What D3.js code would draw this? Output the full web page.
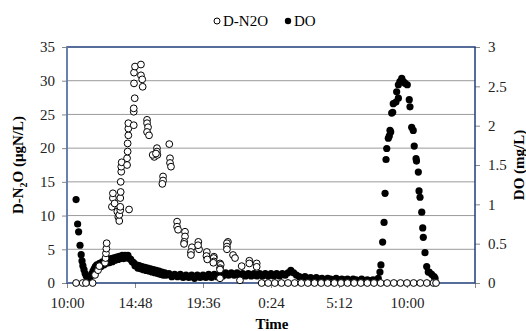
<!DOCTYPE html>
<html>
<head>
<meta charset="utf-8">
<script src="https://cdn.jsdelivr.net/npm/d3@7"></script>
<style>
  body { margin: 0; background: #fff; }
  #chart text { font-family: "Liberation Serif", Tinos, "Times New Roman", Times, "DejaVu Serif", serif; }
</style>
</head>
<body>
<svg id="chart" width="526" height="331"></svg>
<script>
// hours elapsed since 10:00 on day one
const timeLabels = ["10:00", "14:48", "19:36", "0:24", "5:12", "10:00"];
const leftTicks = [0, 5, 10, 15, 20, 25, 30, 35];
const rightTicks = [0, 0.5, 1, 1.5, 2, 2.5, 3];

// D-N2O (ugN/L) : [hours, value]
const n2o = [
  [0.64,0],[1.11,0],[1.34,0],[1.81,0],
  [1.98,1.2],[2.19,1.9],[2.28,2.5],
  [2.68,3.0],[2.72,3.7],[2.75,4.4],[2.78,5.1],[2.8,5.9],
  [3.17,11.3],[3.24,12.6],[3.24,13.3],[3.36,11.8],[3.55,10.6],[3.62,9.8],[3.69,9.2],[3.69,10.1],
  [3.76,10.8],[3.76,11.3],[3.76,12.6],[3.79,13.5],[3.79,15.0],[3.83,16.5],[3.83,17.25],[3.86,17.9],
  [4.24,17.5],[4.24,18.5],[4.28,19.5],[4.28,20.7],[4.33,21.9],[4.33,22.9],[4.33,23.7],[4.38,10.9],
  [4.71,23.4],[4.71,25.4],[4.71,25.9],[4.78,27.4],[4.73,29.6],[4.73,31.2],[4.8,32.1],
  [5.22,32.4],[5.22,30.8],[5.31,30.2],[5.34,29.1],
  [5.65,24.2],[5.65,23.7],[5.72,23.1],[5.65,22.4],[5.79,21.9],
  [6.35,20.0],[6.35,19.5],[6.16,18.7],[6.05,19.0],[6.38,19.0],[6.28,19.2],
  [6.78,15.8],[6.78,15.2],[6.73,14.7],
  [7.22,20.6],[7.27,18.5],[7.27,17.8],[7.34,17.25],
  [7.77,9.1],[7.77,8.35],[7.84,7.9],
  [8.33,7.6],[8.33,6.9],[8.28,6.1],[8.26,5.8],
  [8.82,5.3],[8.75,4.6],[8.75,4.15],
  [9.27,6.1],[9.32,5.0],[9.25,5.6],
  [9.87,4.6],[9.84,4.0],[9.9,3.5],
  [10.37,3.9],[10.35,3.7],[10.37,3.2],[10.33,3.0],
  [10.8,2.9],[10.85,2.7],[10.8,2.2],[10.8,2.0],[10.8,0.7],
  [11.36,6.1],[11.29,5.9],[11.29,5.4],[11.29,5.0],
  [11.72,4.15],[11.86,3.7],
  [12.21,0.4],[12.33,2.5],
  [12.87,3.3],[12.87,2.9],
  [13.39,2.9],[13.39,2.4],
  [13.74,0],[14.2,0],[14.67,0],[15.14,0],[15.6,0],[16.07,0],[16.54,0],[17.0,0],[17.47,0],
  [17.94,0],[18.4,0],[18.87,0],[19.34,0],[19.8,0],[20.27,0],[20.74,0],[21.2,0],[21.67,0],
  [22.14,0],[22.6,0],[23.07,0],[23.54,0],[24.0,0],[24.47,0],[24.94,0],[25.4,0],[25.87,0],[26.05,0]
];

// DO (mg/L) : [hours, value]
const dox = [
  [0.64,1.06],[0.75,0.75],[0.82,0.65],[0.92,0.48],[1.0,0.36],[1.06,0.28],[1.12,0.22],[1.2,0.17],
  [1.28,0.12],[1.36,0.09],[1.44,0.07],[1.52,0.06],[1.6,0.07],[1.68,0.09],[1.76,0.12],[1.84,0.15],
  [1.92,0.18],[2.0,0.21],[2.1,0.23],[2.2,0.19],[2.3,0.25],[2.4,0.21],[2.5,0.27],[2.6,0.23],
  [2.7,0.28],[2.8,0.25],[2.9,0.29],[3.0,0.26],[3.1,0.31],[3.2,0.27],[3.3,0.32],[3.4,0.29],
  [3.5,0.33],[3.6,0.30],[3.7,0.34],[3.8,0.31],[3.9,0.35],[4.0,0.31],[4.1,0.35],[4.2,0.32],
  [4.3,0.35],[4.4,0.31],[4.5,0.30],[4.6,0.27],[4.7,0.26],[4.8,0.22],[4.9,0.23],[5.0,0.19],
  [5.1,0.22],[5.2,0.18],[5.3,0.21],[5.4,0.17],[5.5,0.20],[5.6,0.16],[5.7,0.19],[5.8,0.15],
  [5.9,0.18],[6.0,0.14],[6.1,0.17],[6.2,0.13],[6.3,0.16],[6.4,0.12],[6.5,0.15],[6.6,0.11],
  [6.7,0.14],[6.8,0.10],[6.9,0.13],[7.0,0.10],[7.2,0.12],[7.4,0.08],[7.6,0.11],[7.8,0.08],
  [8.0,0.11],[8.2,0.07],[8.4,0.10],[8.6,0.07],[8.8,0.10],[9.0,0.06],[9.2,0.10],[9.4,0.07],
  [9.6,0.10],[9.8,0.07],[10.0,0.11],[10.2,0.07],[10.4,0.11],[10.6,0.08],[10.8,0.12],[11.0,0.09],
  [11.2,0.13],[11.4,0.10],[11.6,0.13],[11.8,0.10],[12.0,0.13],[12.2,0.09],[12.4,0.12],[12.6,0.09],
  [12.8,0.12],[13.0,0.09],[13.2,0.12],[13.4,0.09],[13.6,0.12],[13.8,0.09],[14.0,0.12],[14.2,0.09],
  [14.4,0.12],[14.6,0.09],[14.8,0.12],[15.0,0.09],[15.2,0.12],[15.4,0.10],[15.6,0.13],[15.8,0.16],
  [16.0,0.13],[16.2,0.10],[16.4,0.08],[16.6,0.07],[16.8,0.08],[17.0,0.06],[17.2,0.07],[17.4,0.05],
  [17.6,0.07],[17.8,0.05],[18.0,0.06],[18.2,0.04],[18.4,0.06],[18.6,0.05],[18.8,0.04],[19.0,0.06],
  [19.2,0.04],[19.4,0.05],[19.6,0.04],[19.8,0.05],[20.0,0.03],[20.2,0.05],[20.4,0.04],[20.6,0.03],
  [20.8,0.05],[21.0,0.03],[21.2,0.04],[21.4,0.03],[21.6,0.04],[21.8,0.03],
  [21.97,0.06],[22.09,0.14],[22.16,0.23],[22.28,0.52],[22.38,0.77],[22.45,1.14],[22.52,1.57],
  [22.57,1.71],[22.68,1.84],[22.75,1.87],[22.8,1.94],[22.85,1.92],[22.92,2.16],[22.99,2.17],
  [23.03,2.28],[23.22,2.30],[23.27,2.43],[23.39,2.35],[23.39,2.52],[23.5,2.56],[23.63,2.60],
  [23.74,2.56],[23.86,2.54],[24.02,2.52],[24.16,2.33],[24.21,2.24],
  [24.33,1.98],[24.44,1.94],[24.51,1.74],[24.64,1.58],[24.67,1.55],[24.8,1.41],[24.85,1.17],
  [24.92,1.09],[25.04,0.90],[25.11,0.70],[25.15,0.58],[25.27,0.385],[25.39,0.21],[25.5,0.14],
  [25.57,0.14],[25.74,0.11],[25.91,0.08],[25.98,0.06]
];

const svg = d3.select("#chart");
const plotLeft = 67, plotRight = 475, plotTop = 47, plotBottom = 283;

const x = d3.scaleLinear().domain([0, 28.8]).range([plotLeft, plotRight]);
const yL = d3.scaleLinear().domain([0, 35]).range([plotBottom, plotTop]);
const yR = d3.scaleLinear().domain([0, 3]).range([plotBottom, plotTop]);

// gridlines
svg.append("g")
  .selectAll("line")
  .data(leftTicks.slice(1, -1))
  .enter()
  .append("line")
  .attr("x1", plotLeft).attr("x2", plotRight)
  .attr("y1", d => yL(d)).attr("y2", d => yL(d))
  .attr("stroke", "#9a9a9a")
  .attr("stroke-width", 1);

// axes
const xTickVals = d3.range(7).map(i => i * 4.8);
const xAxis = d3.axisBottom(x)
  .tickValues(xTickVals)
  .tickSize(5)
  .tickFormat((d, i) => timeLabels[i] || "");
const gx = svg.append("g").attr("transform", `translate(0,${plotBottom})`).call(xAxis);

const gl = svg.append("g").attr("transform", `translate(${plotLeft},0)`)
  .call(d3.axisLeft(yL).tickValues(leftTicks).tickSize(5).tickFormat(d3.format("d")));

const gr = svg.append("g").attr("transform", `translate(${plotRight},0)`)
  .call(d3.axisRight(yR).tickValues(rightTicks).tickSize(5).tickFormat(d => d));

[gx, gl, gr].forEach(g => {
  g.attr("font-family", null).attr("font-size", null);
  g.select(".domain").remove();
  g.selectAll(".tick line").attr("stroke", "#888");
  g.selectAll(".tick text")
    .attr("font-size", 15)
    .attr("fill", "#222");
});
gl.selectAll(".tick text").attr("x", -12);
gr.selectAll(".tick text").attr("x", 13);
gx.selectAll(".tick text").attr("y", 14);

// plot frame
svg.append("rect")
  .attr("x", plotLeft).attr("y", plotTop)
  .attr("width", plotRight - plotLeft).attr("height", plotBottom - plotTop)
  .attr("fill", "none")
  .attr("stroke", "#1f3c78")
  .attr("stroke-width", 1.5);
svg.append("line")
  .attr("x1", plotLeft).attr("x2", plotLeft).attr("y1", plotTop).attr("y2", plotBottom)
  .attr("stroke", "#7088b4").attr("stroke-width", 1.5);

// DO points (secondary axis)
svg.append("g")
  .selectAll("circle")
  .data(dox)
  .enter()
  .append("circle")
  .attr("cx", d => x(d[0]))
  .attr("cy", d => yR(d[1]))
  .attr("r", 3.6)
  .attr("fill", "#000");

// D-N2O points
svg.append("g")
  .selectAll("circle")
  .data(n2o)
  .enter()
  .append("circle")
  .attr("cx", d => x(d[0]))
  .attr("cy", d => yL(d[1]))
  .attr("r", 3.4)
  .attr("fill", "#fff")
  .attr("stroke", "#000")
  .attr("stroke-width", 1);

// axis titles
svg.append("text")
  .attr("x", 272).attr("y", 329)
  .attr("text-anchor", "middle")
  .attr("font-weight", "bold")
  .attr("font-size", 15)
  .text("Time");

const lt = svg.append("text")
  .attr("transform", `translate(23,${(plotTop + plotBottom) / 2}) rotate(-90)`)
  .attr("text-anchor", "middle")
  .attr("font-weight", "bold")
  .attr("font-size", 15);
lt.append("tspan").text("D-N");
lt.append("tspan").attr("font-size", 10).attr("dy", 4).text("2");
lt.append("tspan").attr("dy", -4).text("O (μgN/L)");

svg.append("text")
  .attr("transform", `translate(524,${(plotTop + plotBottom) / 2}) rotate(-90)`)
  .attr("text-anchor", "middle")
  .attr("font-weight", "bold")
  .attr("font-size", 15)
  .text("DO (mg/L)");

// legend
const legend = svg.append("g");
legend.append("circle").attr("cx", 217).attr("cy", 21).attr("r", 3)
  .attr("fill", "#fff").attr("stroke", "#000");
legend.append("text").attr("x", 223).attr("y", 26).attr("font-size", 15).text("D-N2O");
legend.append("circle").attr("cx", 288).attr("cy", 21).attr("r", 3.2).attr("fill", "#000");
legend.append("text").attr("x", 294).attr("y", 26).attr("font-size", 15).text("DO");
</script>
</body>
</html>
